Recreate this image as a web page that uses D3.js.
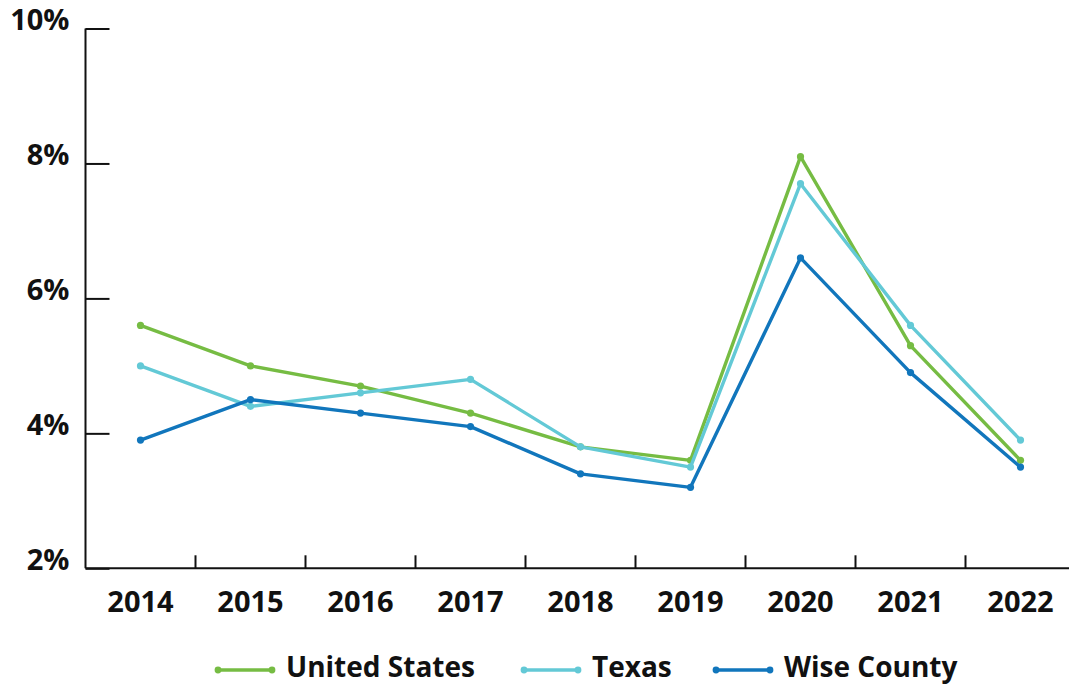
<!DOCTYPE html>
<html><head><meta charset="utf-8">
<script src="https://cdn.jsdelivr.net/npm/d3@7"></script>
<style>
html,body{margin:0;padding:0;background:#fff;}
svg{display:block;}
text{font-family:"Open Sans",sans-serif;font-weight:700;fill:#111;}
</style></head>
<body>
<svg id="chart" width="1069" height="685"></svg>
<script>
const years = ["2014","2015","2016","2017","2018","2019","2020","2021","2022"];
const unitedStates = [5.6,5.0,4.7,4.3,3.8,3.6,8.1,5.3,3.6];
const texas = [5.0,4.4,4.6,4.8,3.8,3.5,7.7,5.6,3.9];
const wiseCounty = [3.9,4.5,4.3,4.1,3.4,3.2,6.6,4.9,3.5];
const seriesNames = ["United States","Texas","Wise County"];
const seriesColors = ["#76bc43","#63c9d6","#1176bc"];
const yTicks = [2,4,6,8,10];

const series = [unitedStates, texas, wiseCounty].map((vals,i)=>({name:seriesNames[i],color:seriesColors[i],values:vals}));

const svg = d3.select("#chart");
const x = d3.scaleBand().domain(years).range([85.5, 1075.5]).padding(0);
const y = d3.scaleLinear().domain([2,10]).range([568.3, 28.5]);

// y axis
const yAxis = svg.append("g").attr("transform","translate(85.5,0)")
  .call(d3.axisRight(y).tickValues(yTicks).tickSize(24).tickFormat(d=>d+"%"));
yAxis.select(".domain").attr("stroke","#111").attr("stroke-width",2).attr("d","M0,"+y(2)+"V"+y(10));
yAxis.selectAll(".tick line").attr("stroke","#111").attr("stroke-width",2);
yAxis.selectAll(".tick text").attr("x",-16).attr("text-anchor","end").attr("dy","0.36em")
  .style("font-size","29px").attr("transform","translate(0,-9)");

// x axis
const xAxis = svg.append("g").attr("transform","translate(0,"+y(2)+")")
  .call(d3.axisBottom(x).tickSize(0).tickPadding(44));
xAxis.select(".domain").attr("stroke","#111").attr("stroke-width",2).attr("d","M85.5,0H1075.5");
xAxis.selectAll(".tick text").style("font-size","29px").attr("dy","0");
// tick separators between bands
svg.append("g").selectAll("line").data(years.slice(1)).join("line")
  .attr("x1",d=>x(d)).attr("x2",d=>x(d))
  .attr("y1",y(2)-13).attr("y2",y(2))
  .attr("stroke","#111").attr("stroke-width",2);

const line = d3.line().x((d,i)=>x(years[i])+x.bandwidth()/2).y(d=>y(d));
const g = svg.append("g");
series.forEach(s=>{
  g.append("path").attr("d",line(s.values)).attr("fill","none")
    .attr("stroke",s.color).attr("stroke-width",3.4).attr("stroke-linejoin","round");
  g.selectAll(null).data(s.values).join("circle")
    .attr("cx",(d,i)=>x(years[i])+x.bandwidth()/2).attr("cy",d=>y(d))
    .attr("r",3.6).attr("fill",s.color);
});

// legend
const legendX = [218, 524, 716];
const lg = svg.append("g");
series.forEach((s,i)=>{
  const gx = lg.append("g").attr("transform","translate("+legendX[i]+",670)");
  gx.append("line").attr("x1",0).attr("x2",54).attr("y1",0).attr("y2",0)
    .attr("stroke",s.color).attr("stroke-width",3.4);
  gx.append("circle").attr("cx",0).attr("cy",0).attr("r",3.4).attr("fill",s.color);
  gx.append("circle").attr("cx",54).attr("cy",0).attr("r",3.4).attr("fill",s.color);
  gx.append("text").attr("x",68).attr("y",7).style("font-size","28px").text(s.name);
});
</script>
</body></html>
